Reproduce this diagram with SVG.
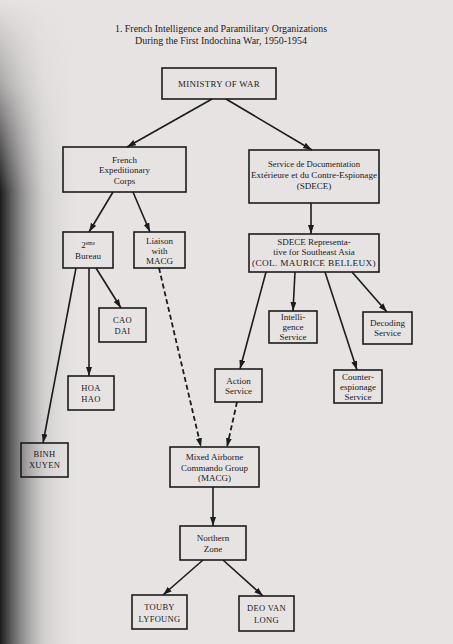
<svg xmlns="http://www.w3.org/2000/svg" width="453" height="644" viewBox="0 0 453 644">
<defs>
<style>
.box{fill:none;stroke:#1c1c1c;stroke-width:1.6}
.t{font-family:"Liberation Serif","Times New Roman",serif;font-size:9px;fill:#1a1a1a;text-anchor:middle}
.c{font-size:8.5px;letter-spacing:0.3px}
.ttl{font-family:"Liberation Serif","Times New Roman",serif;font-size:10.5px;fill:#1a1a1a}
.ln{stroke:#1c1c1c;stroke-width:1.6;fill:none;marker-end:url(#ah)}
.dash{stroke-dasharray:5,3;stroke-width:1.8}
</style>
<marker id="ah" markerUnits="userSpaceOnUse" markerWidth="10" markerHeight="8" refX="9" refY="3" orient="auto">
<path d="M0,0 L9,3 L0,6 z" fill="#1c1c1c"/>
</marker>
<linearGradient id="shade" x1="0" y1="0" x2="1" y2="0">
<stop offset="0" stop-color="#1a1a1a" stop-opacity="1"/>
<stop offset="0.25" stop-color="#555" stop-opacity="0.7"/>
<stop offset="0.6" stop-color="#999" stop-opacity="0.25"/>
<stop offset="1" stop-color="#bbb" stop-opacity="0"/>
</linearGradient>
<linearGradient id="vfade" x1="0" y1="0" x2="0" y2="1">
<stop offset="0" stop-color="#fff" stop-opacity="0"/>
<stop offset="0.13" stop-color="#fff" stop-opacity="0.3"/>
<stop offset="0.3" stop-color="#fff" stop-opacity="1"/>
<stop offset="1" stop-color="#fff" stop-opacity="1"/>
</linearGradient>
<mask id="m"><rect x="0" y="0" width="453" height="644" fill="url(#vfade)"/></mask>
</defs>
<rect x="0" y="0" width="453" height="644" fill="#e7e3e3"/>
<rect x="0" y="0" width="75" height="644" fill="url(#shade)" mask="url(#m)"/>

<g id="title">
<text class="ttl" x="115" y="32" textLength="212" lengthAdjust="spacingAndGlyphs">1. French Intelligence and Paramilitary Organizations</text>
<text class="ttl" x="135" y="44" textLength="172" lengthAdjust="spacingAndGlyphs">During the First Indochina War, 1950-1954</text>
</g>

<g id="connectors">
<line class="ln" x1="212" y1="99" x2="127" y2="147"/>
<line class="ln" x1="226" y1="99" x2="312" y2="150"/>
<line class="ln" x1="113" y1="192" x2="89" y2="232"/>
<line class="ln" x1="133" y1="192" x2="150" y2="232"/>
<line class="ln" x1="311" y1="203" x2="311" y2="234"/>
<line class="ln" x1="96" y1="268" x2="121" y2="308"/>
<line class="ln" x1="89" y1="268" x2="89" y2="376"/>
<line class="ln" x1="76" y1="268" x2="43" y2="443"/>
<line class="ln" x1="266" y1="272" x2="240" y2="369"/>
<line class="ln" x1="295" y1="272" x2="293" y2="311"/>
<line class="ln" x1="325" y1="272" x2="357" y2="370"/>
<line class="ln" x1="352" y1="272" x2="387" y2="312"/>
<line class="ln dash" x1="159" y1="268" x2="201" y2="447"/>
<line class="ln dash" x1="237" y1="402" x2="227" y2="447"/>
<line class="ln" x1="213" y1="487" x2="213" y2="526"/>
<line class="ln" x1="203" y1="560" x2="163" y2="595"/>
<line class="ln" x1="223" y1="560" x2="263" y2="596"/>
</g>

<g id="ministry">
<rect class="box" x="162" y="68" width="114" height="31"/>
<text class="t c" x="219" y="87" textLength="82" lengthAdjust="spacingAndGlyphs">MINISTRY OF WAR</text>
</g>
<g id="fec">
<rect class="box" x="63" y="147" width="123" height="45"/>
<text class="t" x="124.5" y="162.5">French</text>
<text class="t" x="124.5" y="173">Expeditionary</text>
<text class="t" x="124.5" y="183.5">Corps</text>
</g>
<g id="sdece">
<rect class="box" x="249" y="150" width="130" height="53"/>
<text class="t" x="314" y="167" textLength="92" lengthAdjust="spacingAndGlyphs">Service de Documentation</text>
<text class="t" x="314" y="178" textLength="126" lengthAdjust="spacingAndGlyphs">Extérieure et du   Contre-Espionage</text>
<text class="t" x="314" y="189">(SDECE)</text>
</g>
<g id="bureau">
<rect class="box" x="63" y="232" width="50" height="36"/>
<text class="t" x="88" y="248">2<tspan font-size="5.5px" dy="-3.5">eme</tspan></text>
<text class="t" x="88" y="259">Bureau</text>
</g>
<g id="liaison">
<rect class="box" x="134" y="232" width="51" height="36"/>
<text class="t" x="159.5" y="244">Liaison</text>
<text class="t" x="159.5" y="254">with</text>
<text class="t" x="159.5" y="264">MACG</text>
</g>
<g id="sdece-rep">
<rect class="box" x="249" y="234" width="130" height="38"/>
<text class="t" x="314" y="244.5">SDECE  Representa-</text>
<text class="t" x="314" y="255">tive for Southeast Asia</text>
<text class="t c" x="314" y="266" textLength="124" lengthAdjust="spacingAndGlyphs">(COL. MAURICE BELLEUX)</text>
</g>
<g id="caodai">
<rect class="box" x="99" y="308" width="47" height="34"/>
<text class="t c" x="122.5" y="323">CAO</text>
<text class="t c" x="122.5" y="334">DAI</text>
</g>
<g id="hoahao">
<rect class="box" x="68" y="376" width="46" height="34"/>
<text class="t c" x="91" y="391">HOA</text>
<text class="t c" x="91" y="402">HAO</text>
</g>
<g id="binhxuyen">
<rect class="box" x="21" y="443" width="47" height="34"/>
<text class="t c" x="44.5" y="457" font-size="7.5px">BINH</text>
<text class="t c" x="44.5" y="468" font-size="7.5px">XUYEN</text>
</g>
<g id="intelligence">
<rect class="box" x="269" y="311" width="48" height="32"/>
<text class="t" x="293" y="320">Intelli-</text>
<text class="t" x="293" y="330">gence</text>
<text class="t" x="293" y="340">Service</text>
</g>
<g id="decoding">
<rect class="box" x="363" y="312" width="49" height="32"/>
<text class="t" x="387.5" y="326">Decoding</text>
<text class="t" x="387.5" y="336">Service</text>
</g>
<g id="counter">
<rect class="box" x="334" y="370" width="48" height="33"/>
<text class="t" x="358" y="380">Counter-</text>
<text class="t" x="358" y="390">espionage</text>
<text class="t" x="358" y="400">Service</text>
</g>
<g id="action">
<rect class="box" x="215" y="369" width="47" height="33"/>
<text class="t" x="238.5" y="384">Action</text>
<text class="t" x="238.5" y="394">Service</text>
</g>
<g id="macg">
<rect class="box" x="170" y="447" width="89" height="40"/>
<text class="t" x="214.5" y="460">Mixed Airborne</text>
<text class="t" x="214.5" y="470.5">Commando Group</text>
<text class="t" x="214.5" y="481">(MACG)</text>
</g>
<g id="northern">
<rect class="box" x="180" y="526" width="66" height="34"/>
<text class="t" x="213" y="541">Northern</text>
<text class="t" x="213" y="551.5">Zone</text>
</g>
<g id="touby">
<rect class="box" x="132" y="595" width="55" height="34"/>
<text class="t c" x="159.5" y="610">TOUBY</text>
<text class="t c" x="159.5" y="622">LYFOUNG</text>
</g>
<g id="deo">
<rect class="box" x="239" y="596" width="55" height="35"/>
<text class="t c" x="266.5" y="611">DEO  VAN</text>
<text class="t c" x="266.5" y="623">LONG</text>
</g>
</svg>
